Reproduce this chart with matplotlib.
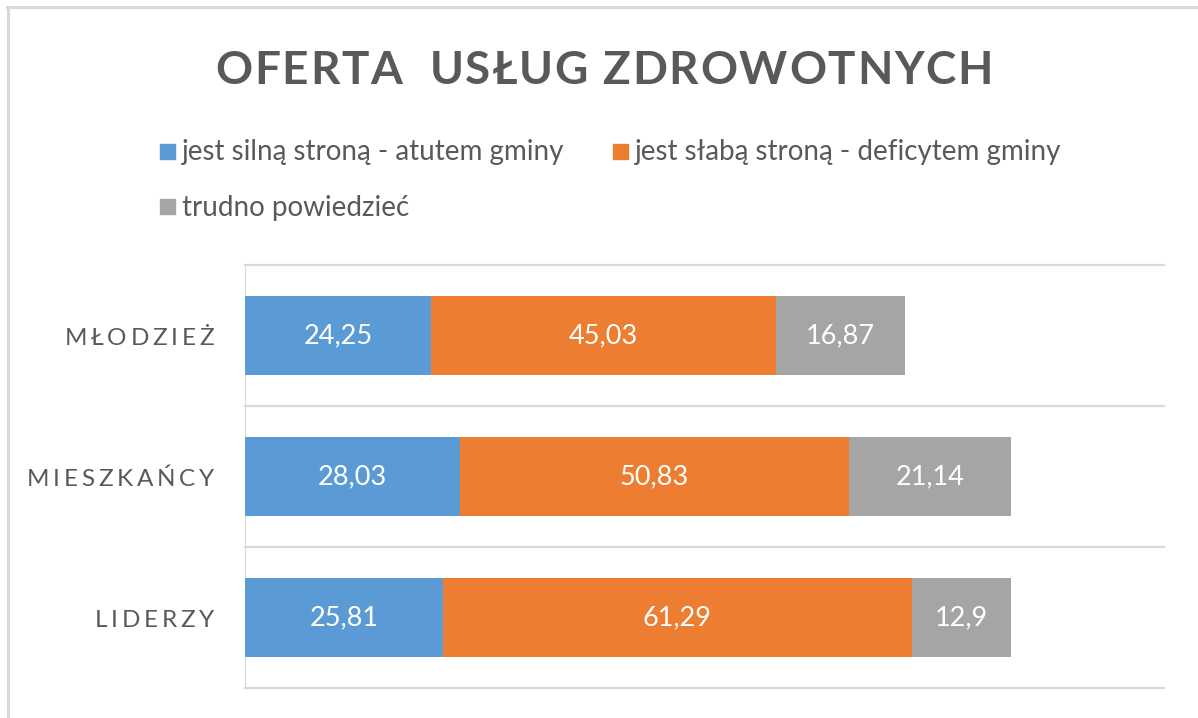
import numpy as np
import matplotlib
matplotlib.use("Agg")
import matplotlib.pyplot as plt
from matplotlib.font_manager import FontProperties
from matplotlib.lines import Line2D
from matplotlib.patches import Rectangle

# data
categories = ["MŁODZIEŻ", "MIESZKAŃCY", "LIDERZY"]
series_names = ["jest silną stroną - atutem gminy",
                "jest słabą stroną - deficytem gminy",
                "trudno powiedzieć"]
silna = [24.25, 28.03, 25.81]
slaba = [45.03, 50.83, 61.29]
trudno = [16.87, 21.14, 12.9]
labels = [["24,25", "28,03", "25,81"],
          ["45,03", "50,83", "61,29"],
          ["16,87", "21,14", "12,9"]]
colors = ["#5B9BD5", "#ED7D31", "#A5A5A5"]

W, H = 1198, 718
fig = plt.figure(figsize=(W / 100, H / 100), dpi=100)
renderer = fig.canvas.get_renderer()
TXT = "#595959"
GRID = "#D9D9D9"


def spaced_text(x, y, s, size, weight="normal", ha="left", spacing=None, width=None, color=TXT):
    """draw letter-spaced text, x/y in pixels from top-left, y = baseline"""
    prop = FontProperties(family="Lato", size=size, weight=weight)
    ws = [renderer.get_text_width_height_descent(ch, prop, ismath=False)[0] for ch in s]
    if width is not None:
        spacing = (width - sum(ws)) / (len(s) - 1)
    total = sum(ws) + spacing * (len(s) - 1)
    if ha == "right":
        x0 = x - total
    elif ha == "center":
        x0 = x - total / 2
    else:
        x0 = x
    for ch, w in zip(s, ws):
        fig.text(x0 / W, 1 - y / H, ch, fontproperties=prop, color=color,
                 ha="left", va="baseline")
        x0 += w + spacing


# axes placed to match the plot area
ax = fig.add_axes([245 / W, 1 - 688 / H, (1164 - 245) / W, (688 - 265) / H])
y = np.arange(len(categories))
left = np.zeros(len(categories))
bars = []
for vals, col, name, labs in zip([silna, slaba, trudno], colors, series_names, labels):
    b = ax.barh(y, vals, left=left, height=0.56, color=col, label=name, zorder=3)
    ax.bar_label(b, labels=labs, label_type="center", color="white",
                 fontsize=19.5, family="Lato")
    bars.append(b)
    left = left + np.array(vals)

ax.set_xlim(0, 120)
ax.set_ylim(2.5, -0.5)
for yy in [-0.5, 0.5, 1.5, 2.5]:
    ax.axhline(yy, color=GRID, lw=1.6, zorder=1, clip_on=False)
ax.axvline(0, color=GRID, lw=1.6, zorder=1)
for sp in ax.spines.values():
    sp.set_visible(False)
ax.set_xticks([])
ax.set_yticks([])

# category labels (letter-spaced)
cat_base = [345, 486, 627]
for name, yb in zip(categories, cat_base):
    spaced_text(214, yb, name, 17.5, ha="right", spacing=3.8)

# title
spaced_text(604, 84, "OFERTA  USŁUG ZDROWOTNYCH", 33, weight="bold", ha="center", width=778)

# legend, drawn by hand: two entries on the first row, one on the second
leg_pos = [(160, 151), (613, 151), (160, 207)]
for (px, py), col, name in zip(leg_pos, colors, series_names):
    fig.patches.append(Rectangle((px / W, 1 - (py + 7.5) / H), 15 / W, 15 / H,
                                 transform=fig.transFigure, color=col))
    fig.text((px + 22) / W, 1 - (py + 1) / H, name, family="Lato", fontsize=20,
             color=TXT, ha="left", va="center")

# outer border
fig.add_artist(Line2D([7 / W, 1], [1 - 7 / H, 1 - 7 / H], color=GRID, lw=2.2))
fig.add_artist(Line2D([8 / W, 8 / W], [0, 1 - 7 / H], color=GRID, lw=2.2))

fig.savefig("out.png", dpi=100)
